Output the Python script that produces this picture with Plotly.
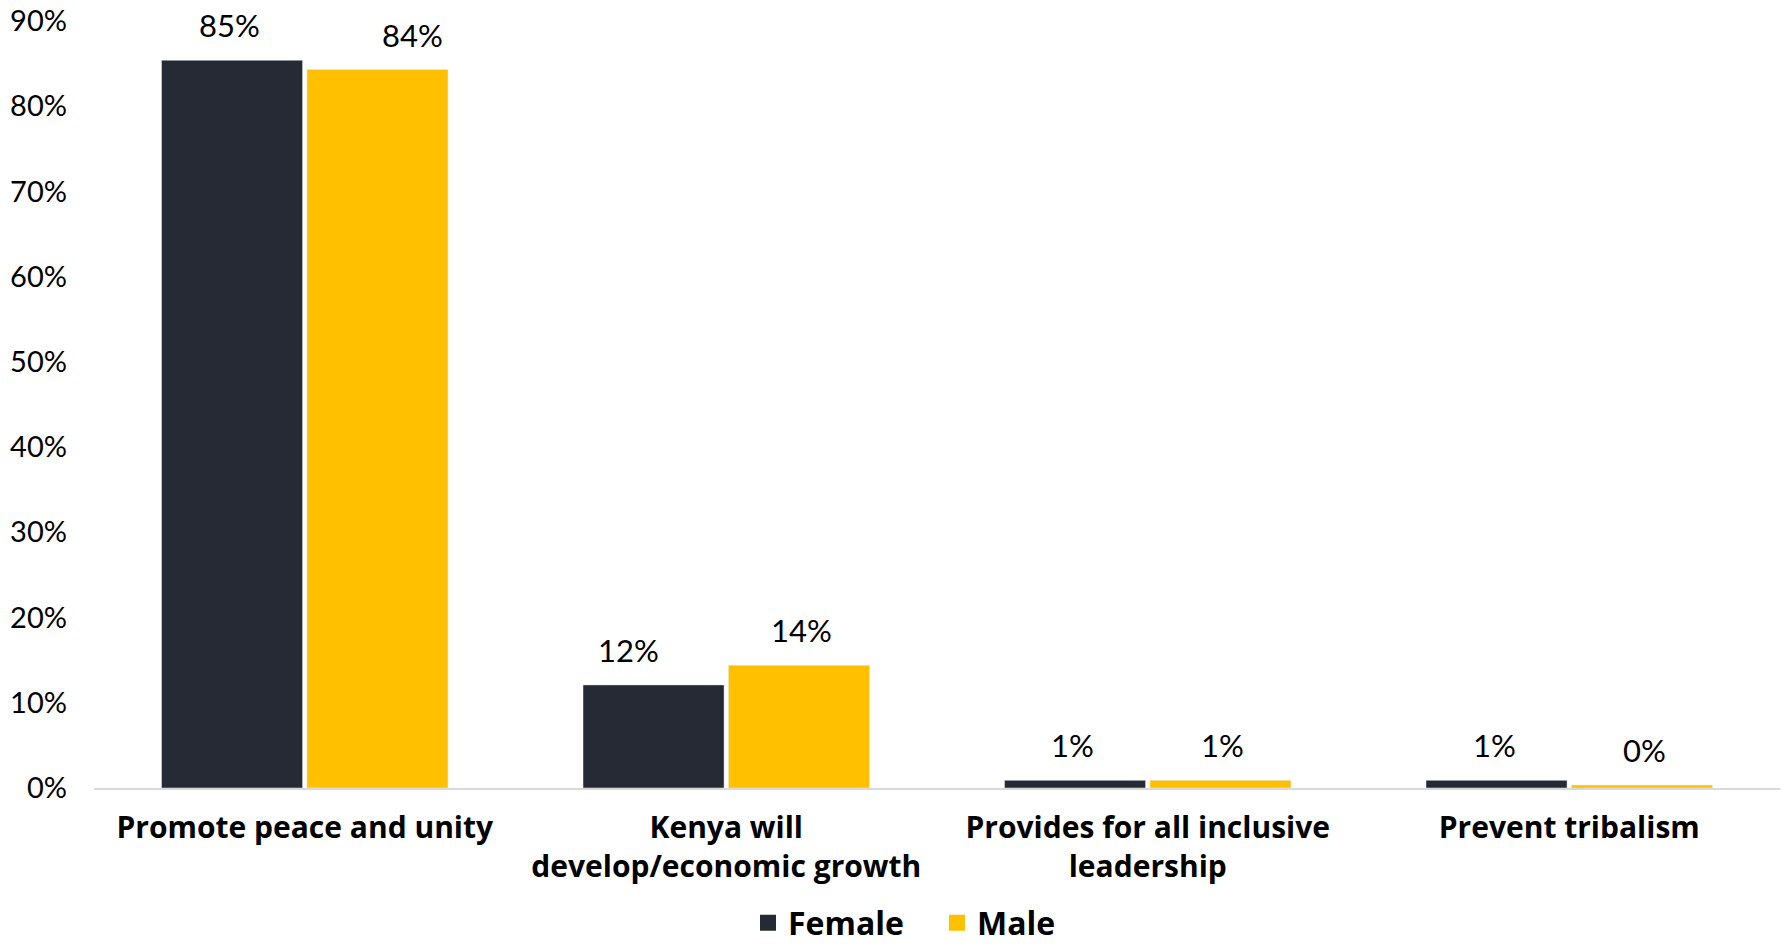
import plotly.graph_objects as go

categories = ["Promote peace and unity", "Kenya will<br>develop/economic growth",
              "Provides for all inclusive<br>leadership", "Prevent tribalism"]
female = [0.854, 0.121, 0.009, 0.009]
male = [0.843, 0.144, 0.009, 0.0035]
tick_vals = [0, 0.1, 0.2, 0.3, 0.4, 0.5, 0.6, 0.7, 0.8, 0.9]
tick_text = ["0%", "10%", "20%", "30%", "40%", "50%", "60%", "70%", "80%", "90%"]
female_shift = [0, -23, 0, 0]
male_shift = [33, 0, 0, 0]

FONT = "Lato"
BOLD = "Open Sans"
DARK = "#252A35"
GOLD = "#FFC000"

fig = go.Figure()
fig.add_trace(go.Bar(name="Female", x=categories, y=female, marker_color=DARK, showlegend=False))
fig.add_trace(go.Bar(name="Male", x=categories, y=male, marker_color=GOLD, showlegend=False))
# legend entries with larger square swatches
fig.add_trace(go.Scatter(name="Female", x=[None], y=[None], mode="markers",
                         marker=dict(symbol="square", size=20, color=DARK)))
fig.add_trace(go.Scatter(name="Male", x=[None], y=[None], mode="markers",
                         marker=dict(symbol="square", size=20, color=GOLD)))

for i, c in enumerate(categories):
    for vals, shifts, off in ((female, female_shift, -75), (male, male_shift, 75)):
        fig.add_annotation(x=c, y=vals[i], xref="x", yref="y",
                           text=f"{round(vals[i]*100)}%", showarrow=False,
                           xshift=off + shifts[i], yshift=35, yanchor="middle",
                           font=dict(family=FONT, size=31, color="#000000"))

fig.update_layout(
    width=1781, height=945,
    margin=dict(l=94, r=1, t=21, b=157, autoexpand=False),
    paper_bgcolor="white", plot_bgcolor="white",
    barmode="group", bargap=0.31, bargroupgap=0.03,
    font=dict(family=FONT, color="#000000"),
    legend=dict(orientation="h", x=0.5, xanchor="center", y=-0.176, yanchor="middle",
                font=dict(family=BOLD, size=32, color="#000000", weight="bold"),
                itemwidth=30, traceorder="normal", itemsizing="trace",
                entrywidth=144),
    showlegend=True,
)
fig.update_xaxes(showline=True, linecolor="#D9D9D9", linewidth=2, showgrid=False,
                 ticks="", automargin=False,
                 tickfont=dict(family=BOLD, size=30, color="#000000", weight="bold"),
                 ticklabelstandoff=12)
fig.update_yaxes(range=[0, 0.9], tickvals=tick_vals, ticktext=tick_text, showgrid=False,
                 zeroline=False, showline=False, ticks="", automargin=False,
                 tickfont=dict(family=FONT, size=29, color="#000000"), ticklabelstandoff=26)

fig.write_html("out.html", config={"displayModeBar": False},
               post_script="document.body.style.margin='0';document.body.style.overflow='hidden';")
